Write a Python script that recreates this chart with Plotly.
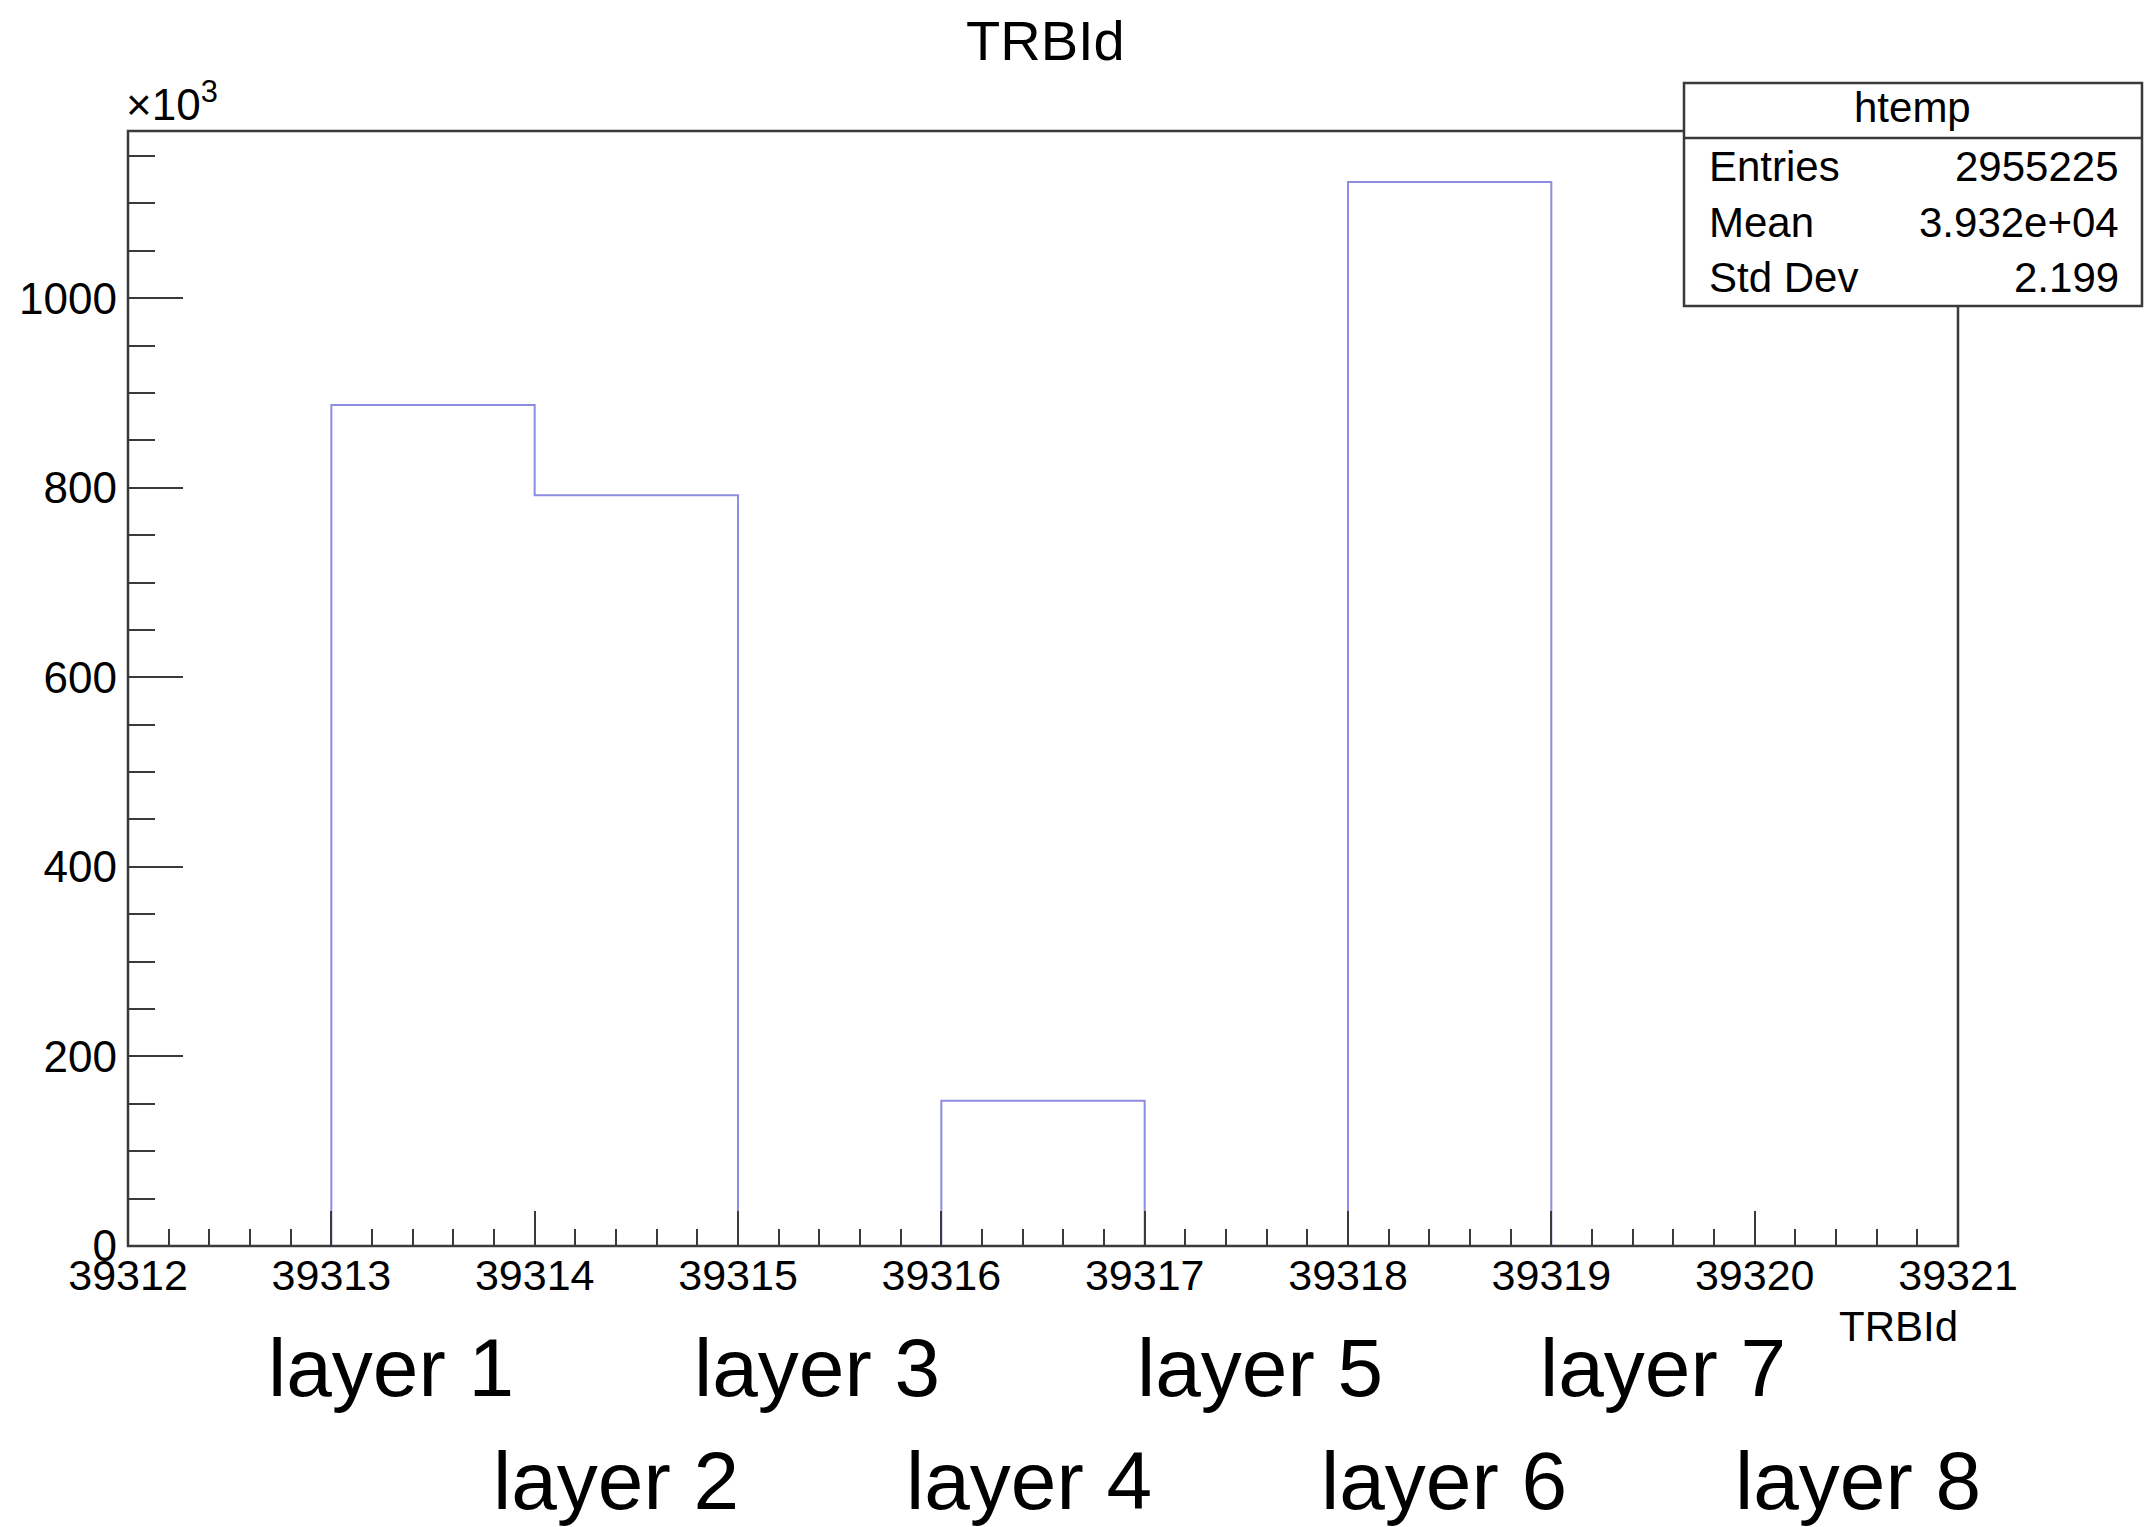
import numpy as np
import plotly.graph_objects as go

# Histogram of TRBId: bin edges and counts per bin
bin_edges = [39312, 39313, 39314, 39315, 39316, 39317, 39318, 39319, 39320, 39321]
bin_counts = [0, 887400, 792100, 0, 153200, 0, 1122525, 0, 0]

# Statistics box content
stats_name = "htemp"
stats_labels = ["Entries", "Mean", "Std Dev"]
stats_values = ["2955225", "3.932e+04", "2.199"]

# Layer annotations under the axis
layer_labels = ["layer 1", "layer 2", "layer 3", "layer 4",
                "layer 5", "layer 6", "layer 7", "layer 8"]

W, H = 2144, 1527
ML, MR, MT, MB = 128, 186, 131, 281
PW, PH = W - ML - MR, H - MT - MB
FONT = "Liberation Sans, Arial, Helvetica, sans-serif"
AXIS_COL = "#3a3a3a"


def px_x(px):
    return (px - ML) / PW


def px_y(py):
    return (H - MB - py) / PH


counts_k = np.array(bin_counts, dtype=float) / 1000.0
step_x = list(bin_edges)
step_y = list(counts_k) + [counts_k[-1]]

fig = go.Figure()
fig.add_trace(go.Scatter(
    x=step_x, y=step_y, mode="lines", line_shape="hv",
    line=dict(color="rgb(140,140,225)", width=2),
    hoverinfo="skip", showlegend=False,
))

ymax = 1.048 * counts_k.max()

fig.update_xaxes(
    range=[bin_edges[0], bin_edges[-1]],
    tickmode="linear", tick0=bin_edges[0], dtick=1,
    ticks="inside", ticklen=35, tickwidth=2, tickcolor=AXIS_COL,
    minor=dict(ticks="inside", dtick=0.2, ticklen=17, tickwidth=2, tickcolor=AXIS_COL),
    showgrid=False, zeroline=False, showline=False,
    tickfont=dict(family=FONT, size=43, color="black"),
    tickformat="d",
)
fig.update_yaxes(
    range=[0, ymax],
    tickmode="linear", tick0=0, dtick=200,
    ticks="inside", ticklen=55, tickwidth=2, tickcolor=AXIS_COL,
    minor=dict(ticks="inside", dtick=50, ticklen=27, tickwidth=2, tickcolor=AXIS_COL),
    showgrid=False, zeroline=False, showline=False,
    tickfont=dict(family=FONT, size=44, color="black"),
    ticklabelstandoff=10,
)

shapes = [
    # plot frame
    dict(type="rect", xref="paper", yref="paper", x0=0, x1=1, y0=0, y1=1,
         line=dict(color=AXIS_COL, width=2.5), fillcolor="rgba(0,0,0,0)", layer="above"),
    # statistics box
    dict(type="rect", xref="paper", yref="paper",
         x0=px_x(1684), x1=px_x(2142), y0=px_y(306), y1=px_y(83),
         line=dict(color=AXIS_COL, width=2.5), fillcolor="white", layer="above"),
    dict(type="line", xref="paper", yref="paper",
         x0=px_x(1684), x1=px_x(2142), y0=px_y(138), y1=px_y(138),
         line=dict(color=AXIS_COL, width=2.5), layer="above"),
]

annotations = [
    dict(text="TRBId", xref="paper", yref="paper", x=px_x(1045), y=px_y(41),
         xanchor="center", yanchor="middle", showarrow=False,
         font=dict(family=FONT, size=56, color="black")),
    dict(text="×10<sup>3</sup>", xref="paper", yref="paper", x=px_x(124), y=px_y(131),
         xanchor="left", yanchor="bottom", showarrow=False,
         font=dict(family=FONT, size=44, color="black")),
    dict(text="TRBId", xref="paper", yref="paper", x=px_x(1960), y=px_y(1326),
         xanchor="right", yanchor="middle", showarrow=False,
         font=dict(family=FONT, size=42, color="black")),
    dict(text=stats_name, xref="paper", yref="paper", x=px_x(1912), y=px_y(108),
         xanchor="center", yanchor="middle", showarrow=False,
         font=dict(family=FONT, size=42, color="black")),
]

row_y = [167, 222, 277]
for lab, val, ry in zip(stats_labels, stats_values, row_y):
    annotations.append(dict(text=lab, xref="paper", yref="paper", x=px_x(1707), y=px_y(ry),
                            xanchor="left", yanchor="middle", showarrow=False,
                            font=dict(family=FONT, size=42, color="black")))
    annotations.append(dict(text=val, xref="paper", yref="paper", x=px_x(2121), y=px_y(ry),
                            xanchor="right", yanchor="middle", showarrow=False,
                            font=dict(family=FONT, size=42, color="black")))

layer_pos = [(391, 1367), (616, 1480), (817, 1367), (1029, 1480),
             (1260, 1367), (1444, 1480), (1663, 1367), (1858, 1480)]
for lab, (lx, ly) in zip(layer_labels, layer_pos):
    annotations.append(dict(text=lab, xref="paper", yref="paper", x=px_x(lx), y=px_y(ly),
                            xanchor="center", yanchor="middle", showarrow=False,
                            font=dict(family=FONT, size=82, color="black")))

fig.update_layout(
    width=W, height=H,
    margin=dict(l=ML, r=MR, t=MT, b=MB, pad=0),
    paper_bgcolor="white", plot_bgcolor="white",
    shapes=shapes, annotations=annotations,
    showlegend=False,
)

fig.write_html("out.html", config={"displayModeBar": False})
